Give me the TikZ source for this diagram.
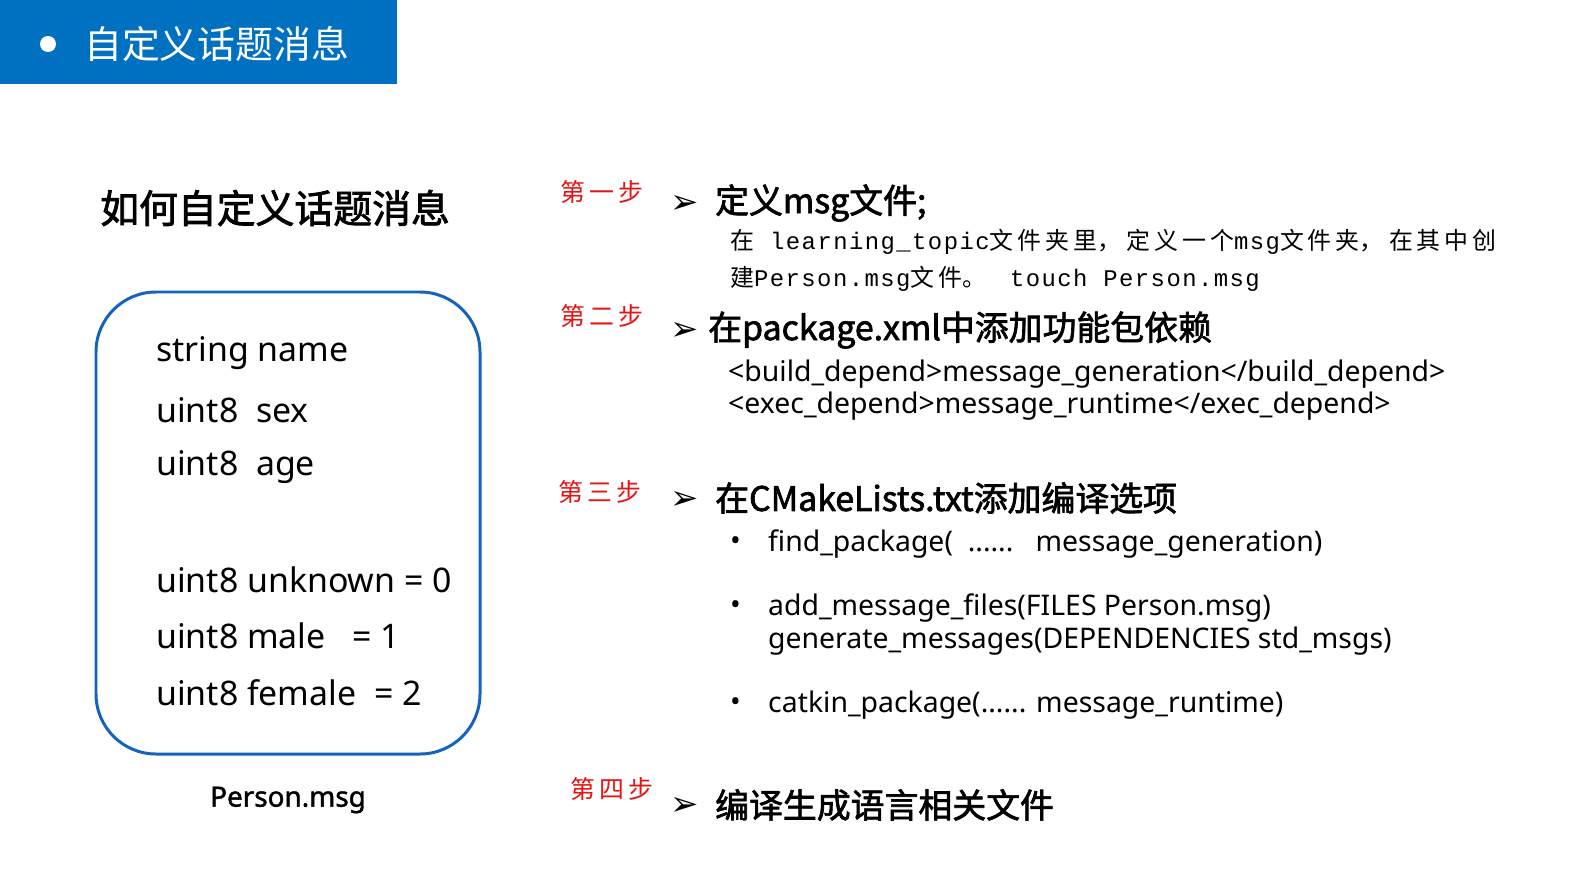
\documentclass[tikz,border=0pt]{standalone}
\usepackage{fontspec}
\setmainfont{Noto Sans}
\newfontfamily\cjk{Noto Sans CJK SC}
\newfontfamily\cjkb{Noto Sans CJK SC}[FakeBold=2]
\newfontfamily\nsb{Noto Sans}[FakeBold=1.5]
\newfontfamily\mono{Liberation Mono}[LetterSpace=6]
\newfontfamily\dv{DejaVu Sans}
\definecolor{tblue}{RGB}{0,112,192}
\definecolor{bblue}{RGB}{20,100,190}
\definecolor{sred}{RGB}{230,20,20}
\tikzset{
 lbl/.style={anchor=west,inner sep=0pt},
 steplbl/.style={lbl,text=sred,font=\cjk\fontsize{25}{26}\selectfont},
 head/.style={lbl,font=\cjkb\fontsize{34}{36}\selectfont},
 arr/.style={lbl,font=\dv\bfseries\fontsize{34}{36}\selectfont},
 body/.style={lbl,font=\fontsize{28.5}{30}\selectfont},
 msgline/.style={lbl,font=\fontsize{34}{36}\selectfont},
 code/.style={lbl,font=\cjk\fontsize{24}{26}\selectfont},
}
\begin{document}
\begin{tikzpicture}[x=1bp,y=-1bp]
\useasboundingbox[fill=white] (0,0) rectangle (1591,886);
\fill[tblue] (0,0) rectangle (397,84);
\fill[white] (48,44) circle (8);
\node[lbl,text=white,font=\cjk\fontsize{38}{40}\selectfont] (title) at (84,44) {自定义话题消息};
\node[lbl,font=\cjkb\fontsize{39}{42}\selectfont] (h) at (100,208) {如何自定义话题消息};
\draw[bblue,line width=3pt,rounded corners=60bp] (96,292) rectangle (480,754);
\node[msgline] (m1) at (156,353) {string name};
\node[msgline] (m2) at (156,410) {uint8\ \ sex};
\node[msgline] (m3) at (156,467) {uint8\ \ age};
\node[msgline] (m4) at (156,580) {uint8 unknown = 0};
\node[msgline] (m5) at (156,636) {uint8 male\ \ \ = 1};
\node[msgline] (m6) at (156,693) {uint8 female\ \ = 2};
\node[font=\nsb\fontsize{28}{30}\selectfont] (pm) at (288,800) {Person.msg};

\node[steplbl] (s1) at (560,192) {第\,一\,步};
\node[steplbl] (s2) at (560,316) {第\,二\,步};
\node[steplbl] (s3) at (558,492) {第\,三\,步};
\node[steplbl] (s4) at (570,789) {第\,四\,步};
\node[arr] (a1) at (670,204) {➢};
\node[arr] (a2) at (670,331) {➢};
\node[arr] (a3) at (670,500) {➢};
\node[arr] (a4) at (670,806) {➢};
\node[head] (h1) at (715,203) {定义msg文件;};
\node[head] (h2) at (708,330) {在package.xml中添加功能包依赖};
\node[head] (h3) at (715,498) {在CMakeLists.txt添加编译选项};
\node[head] (h4) at (715,805) {编译生成语言相关文件};

\node[code] (c1) at (730,242) {在\ \ \ {\mono learning\_topic}文\,件\,夹\,里，\ 定\,义\,一\,个{\mono msg}文\,件\,夹，\ 在\,其\,中\,创};
\node[code] (c2) at (730,279) {建{\mono Person.msg}文\,件。\quad{\mono touch Person.msg}};

\node[body] (b1) at (728,374) {<build\_depend>message\_generation</build\_depend>};
\node[body] (b2) at (728,406) {<exec\_depend>message\_runtime</exec\_depend>};

\node[body] (d1) at (730,544) {\textbullet};
\node[body] (d2) at (730,608) {\textbullet};
\node[body] (d3) at (730,705) {\textbullet};
\node[body] (t1) at (768,544) {find\_package(\ \ ......\ \ \ message\_generation)};
\node[body] (t2) at (768,608) {add\_message\_files(FILES Person.msg)};
\node[body] (t3) at (768,641) {generate\_messages(DEPENDENCIES std\_msgs)};
\node[body] (t4) at (768,705) {catkin\_package(...... message\_runtime)};
\end{tikzpicture}
\end{document}
